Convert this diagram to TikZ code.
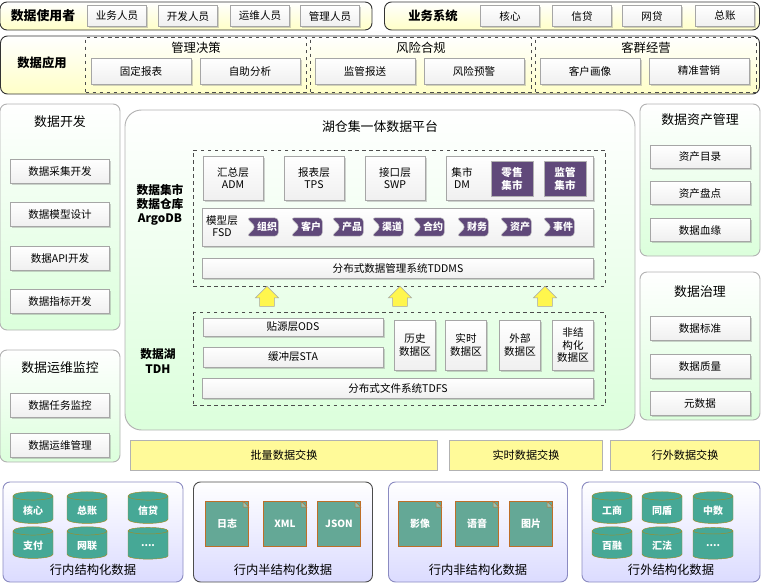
\documentclass[tikz,border=0pt]{standalone}
\usepackage{fontspec}
\setmainfont{Noto Sans CJK SC}
\usepackage{tikz}
\usetikzlibrary{shapes.geometric, shapes.symbols, shapes.arrows, positioning, shadows}
\definecolor{plum}{RGB}{96,73,122}
\definecolor{jade}{RGB}{70,168,150}
\definecolor{olive}{RGB}{160,140,40}
\definecolor{docfill}{RGB}{100,168,150}
\definecolor{docedge}{RGB}{190,110,40}
\newcommand\moredots{....}

\begin{document}
\begin{tikzpicture}[x=0.03cm, y=-0.03cm,
    sz/.style 2 args={minimum width=#1*0.03cm, minimum height=#2*0.03cm, inner sep=0pt},
    panel/.style={rectangle, draw=black!80, rounded corners=6pt, thick},
    ypanel/.style={panel, top color=white, bottom color=yellow!22},
    gpanel/.style={panel, draw=gray!60, top color=white, bottom color=green!14},
    bpanel/.style={panel, draw=blue!30!gray!70, top color=white, bottom color=blue!14},
    box/.style={rectangle, draw=gray!70, top color=white, bottom color=gray!12, align=center, font=\fontsize{9}{10.5}\selectfont, drop shadow={opacity=0.35, shadow xshift=1.5pt, shadow yshift=-1.5pt}},
    grp/.style={rectangle, draw=black!70, dashed},
    ttl/.style={font=\fontsize{10.5}{12}\selectfont, align=center},
    btl/.style={font=\bfseries\fontsize{10.5}{12}\selectfont, align=center},
    tag/.style={signal, signal from=west, signal to=nowhere, rounded corners=3pt, fill=plum, draw=gray!50, text=white, font=\bfseries\fontsize{8.5}{9}\selectfont, minimum width=0.95cm, minimum height=0.55cm, inner sep=1pt},
    mart/.style={rectangle, fill=plum, draw=gray!60, text=white, align=center, font=\bfseries\fontsize{9}{10.5}\selectfont},
    xbar/.style={rectangle, fill=yellow!40, draw=gray!60, font=\fontsize{9.5}{11}\selectfont},
    cyl/.style={cylinder, shape border rotate=90, aspect=0.3, fill=jade, draw=olive, text=white, font=\bfseries\fontsize{8.5}{9}\selectfont, minimum width=1.2cm, minimum height=0.95cm},
    doc/.style={rectangle, fill=docfill, draw=docedge, text=white, font=\bfseries\fontsize{8.5}{9}\selectfont, minimum width=1.3cm, minimum height=1.35cm},
    up/.style={single arrow, shape border rotate=90, fill=yellow!70, draw=gray!70, minimum width=0.7cm, minimum height=0.6cm, single arrow head extend=2pt}
]
\useasboundingbox (0,0) rectangle (763,585);

% users and business systems
\node[ypanel, sz={372}{28}] (users) at (186,16) {};
\node[btl, font=\bfseries\fontsize{11}{12}\selectfont] (usersT) at (43,16) {数据使用者};
\node[box, sz={59}{21}] (u1) at (117,16) {业务人员};
\node[box, sz={59}{21}] (u2) at (188,16) {开发人员};
\node[box, sz={59}{21}] (u3) at (260,16) {运维人员};
\node[box, sz={59}{21}] (u4) at (330,16) {管理人员};
\node[ypanel, sz={375}{28}] (biz) at (572,16) {};
\node[btl] (bizT) at (433,16) {业务系统};
\node[box, sz={59}{21}] (b1) at (510,16) {核心};
\node[box, sz={59}{21}] (b2) at (582,16) {信贷};
\node[box, sz={59}{21}] (b3) at (652,16) {网贷};
\node[box, sz={59}{21}] (b4) at (725,16) {总账};

% data applications
\node[ypanel, sz={759}{58}] (apps) at (380,65) {};
\node[btl] (appsT) at (42,63) {数据应用};
\node[grp, sz={221}{55}] (g1) at (196,65) {};
\node[grp, sz={221}{55}] (g2) at (421,65) {};
\node[grp, sz={221}{55}] (g3) at (646,65) {};
\node[ttl] at (196,48) {管理决策};
\node[ttl] at (421,48) {风险合规};
\node[ttl] at (646,48) {客群经营};
\node[box, sz={100}{26}] (a1) at (141,71) {固定报表};
\node[box, sz={100}{26}] (a2) at (250,71) {自助分析};
\node[box, sz={100}{26}] (a3) at (365,71) {监管报送};
\node[box, sz={100}{26}] (a4) at (474,71) {风险预警};
\node[box, sz={100}{26}] (a5) at (590,71) {客户画像};
\node[box, sz={100}{26}] (a6) at (699,71) {精准营销};

% left column
\node[gpanel, sz={120}{226}] (dev) at (60,217) {};
\node[ttl, font=\fontsize{11}{12}\selectfont] at (60,122) {数据开发};
\foreach \t/\y [count=\i] in {数据采集开发/171, 数据模型设计/214, 数据API开发/258, 数据指标开发/301}
  \node[box, sz={99}{24}] (d\i) at (60,\y) {\t};
\node[gpanel, sz={120}{112}] (ops) at (60,406) {};
\node[ttl, font=\fontsize{11}{12}\selectfont] at (60,368) {数据运维监控};
\node[box, sz={99}{24}] (o1) at (60,405) {数据任务监控};
\node[box, sz={99}{24}] (o2) at (60,445) {数据运维管理};

% platform
\node[gpanel, rounded corners=14pt, sz={510}{320}] (plat) at (380,270) {};
\node[ttl, font=\fontsize{11}{12}\selectfont] at (380,127) {湖仓集一体数据平台};
\node[btl, font=\bfseries\fontsize{10}{12}\selectfont] at (160,205) {数据集市\\数据仓库\\ArgoDB};
\node[grp, sz={412}{136}] (wh) at (399,218) {};
\node[box, sz={60}{44}] (adm) at (233,178) {汇总层\\ADM};
\node[box, sz={60}{44}] (tps) at (314,178) {报表层\\TPS};
\node[box, sz={60}{44}] (swp) at (395,178) {接口层\\SWP};
\node[box, sz={147}{44}] (dm) at (520,178) {};
\node[align=center, font=\fontsize{9}{10.5}\selectfont] at (462,178) {集市\\DM};
\node[mart, sz={42}{35}] (m1) at (512,179) {零售\\集市};
\node[mart, sz={42}{35}] (m2) at (565,179) {监管\\集市};
\node[box, sz={391}{38}] (fsd) at (398,227) {};
\node[align=center, font=\fontsize{9}{10.5}\selectfont] at (222,226) {模型层\\FSD};
\foreach \t/\x [count=\i] in {组织/267, 客户/311, 产品/352, 渠道/392, 合约/433, 财务/477, 资产/520, 事件/563}
  \node[tag] (f\i) at (\x,227) {\t};
\node[box, sz={391}{20}] (tddms) at (398,268) {分布式数据管理系统TDDMS};
\foreach \x [count=\i] in {267, 400, 545}
  \node[up] (ar\i) at (\x,300) {};
\node[btl, font=\bfseries\fontsize{10}{12}\selectfont] at (158,361) {数据湖\\TDH};
\node[grp, sz={412}{93}] (lake) at (399,359) {};
\node[box, sz={180}{18}] (ods) at (293,327) {贴源层ODS};
\node[box, sz={180}{20}] (sta) at (293,357) {缓冲层STA};
\node[box, sz={41}{50}] (z1) at (415,345) {历史\\数据区};
\node[box, sz={41}{50}] (z2) at (466,345) {实时\\数据区};
\node[box, sz={41}{50}] (z3) at (520,345) {外部\\数据区};
\node[box, sz={41}{50}] (z4) at (573,345) {非结\\构化\\数据区};
\node[box, sz={391}{20}] (tdfs) at (398,388) {分布式文件系统TDFS};

% right column
\node[gpanel, sz={120}{152}] (asset) at (700,180) {};
\node[ttl, font=\fontsize{11}{12}\selectfont] at (700,120) {数据资产管理};
\foreach \t/\y [count=\i] in {资产目录/157, 资产盘点/193, 数据血缘/230}
  \node[box, sz={100}{23}] (s\i) at (700,\y) {\t};
\node[gpanel, sz={120}{148}] (gov) at (700,346) {};
\node[ttl, font=\fontsize{11}{12}\selectfont] at (700,292) {数据治理};
\foreach \t/\y [count=\i] in {数据标准/328, 数据质量/366, 元数据/403}
  \node[box, sz={100}{24}] (q\i) at (700,\y) {\t};

% exchange
\node[xbar, sz={307}{30}] (x1) at (284,455) {批量数据交换};
\node[xbar, sz={153}{30}] (x2) at (526,455) {实时数据交换};
\node[xbar, sz={149}{30}] (x3) at (685,455) {行外数据交换};

% sources
\node[bpanel, sz={180}{100}] (src1) at (93,532) {};
\node[bpanel, draw=black!70, sz={179}{100}] (src2) at (283,532) {};
\node[bpanel, sz={179}{100}] (src3) at (478,532) {};
\node[bpanel, sz={178}{100}] (src4) at (671,532) {};
\foreach \t/\x/\y [count=\i] in {核心/33/511, 总账/87/511, 信贷/148/511, 支付/33/546, 网联/87/546, \moredots/148/546}
  \node[cyl] (c\i) at (\x,\y) {\t};
\foreach \t/\x/\y [count=\i] in {工商/612/511, 同盾/662/511, 中数/713/511, 百融/612/546, 汇法/662/546, \moredots/713/546}
  \node[cyl] (e\i) at (\x,\y) {\t};
\foreach \t/\x [count=\i] in {日志/227, XML/285, JSON/339, 影像/420, 语音/477, 图片/531} {
  \node[doc] (p\i) at (\x,524) {\t};
  \draw[docedge, fill=docfill!70] ([xshift=-5pt]p\i.north east) -- ([yshift=-5pt]p\i.north east) -- ([xshift=-5pt,yshift=-5pt]p\i.north east) -- cycle;
}
\node[ttl] at (93,570) {行内结构化数据};
\node[ttl] at (283,570) {行内半结构化数据};
\node[ttl] at (478,570) {行内非结构化数据};
\node[ttl] at (671,570) {行外结构化数据};
\end{tikzpicture}
\end{document}
